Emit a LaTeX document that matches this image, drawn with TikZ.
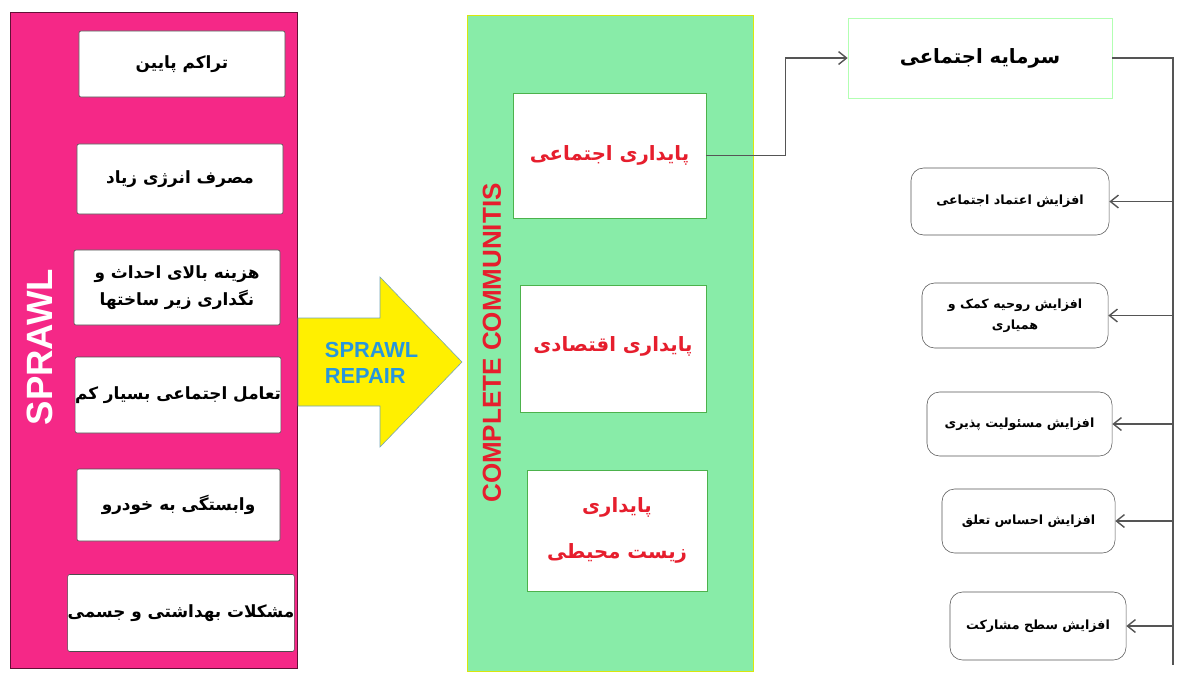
\documentclass[tikz,border=0pt]{standalone}
\usepackage{fontspec}
\setmainfont{Liberation Sans}
\newfontfamily\farsi[Script=Arabic]{DejaVu Sans}
\TeXXeTstate=1
\usetikzlibrary{arrows.meta}

\definecolor{sprawlpink}{RGB}{245,40,135}
\definecolor{ccgreen}{RGB}{136,236,168}
\definecolor{repairyellow}{RGB}{255,240,0}
\definecolor{repairblue}{RGB}{40,150,220}
\definecolor{susred}{RGB}{230,30,45}
\definecolor{linegray}{RGB}{85,85,85}

\newcommand{\fa}[1]{\beginR#1\endR}

\tikzset{
  probbox/.style={draw=black!70, fill=white, rounded corners=1.5pt, inner sep=0pt, align=center,
    font=\farsi\bfseries\fontsize{12}{19}\selectfont},
  susbox/.style={draw=green!40!gray, fill=white, inner sep=0pt, align=center, text=susred,
    font=\farsi\bfseries\fontsize{14}{33}\selectfont},
  gainbox/.style={draw=linegray, rounded corners=9pt, inner sep=0pt, align=center,
    font=\farsi\bfseries\fontsize{9}{15}\selectfont},
  link/.style={draw=linegray, line width=1pt},
  arr/.style={link, -{Straight Barb[length=2mm,width=3.2mm]}},
}

\begin{document}
\begin{tikzpicture}[x=.025cm, y=-.025cm]
\useasboundingbox (0,0) rectangle (1177,673);
% sprawl side
\draw [draw=black!60!sprawlpink, fill=sprawlpink] (10,12) rectangle (297,668);
\node [rotate=90, text=white, font=\bfseries\fontsize{26}{28}\selectfont] (sprawl) at (40,347) {SPRAWL};
\node [probbox, minimum width=5.15cm, minimum height=1.65cm] (p1) at (182,64) {\fa{تراکم پایین}};
\node [probbox, minimum width=5.15cm, minimum height=1.75cm] (p2) at (180,179) {\fa{مصرف انرژی زیاد}};
\node [probbox, minimum width=5.15cm, minimum height=1.875cm] (p3) at (177,287.5) {\fa{هزینه بالای احداث و}\\\fa{نگداری زیر ساختها}};
\node [probbox, minimum width=5.05cm, minimum height=1.9cm] (p4) at (178,395) {\fa{تعامل اجتماعی بسیار کم}};
\node [probbox, minimum width=5.075cm, minimum height=1.8cm] (p5) at (178.5,505) {\fa{وابستگی به خودرو}};
\node [probbox, minimum width=5.35cm, minimum height=1.925cm] (p6) at (181,613) {\fa{مشکلات بهداشتی و جسمی}};
% repair arrow
\draw [draw=cyan!40!gray, fill=repairyellow] (298,318) -- (380,318) -- (380,277) -- (462,362) -- (380,447) -- (380,406) -- (298,406) -- cycle;
\node [anchor=west, align=left, text=repairblue, font=\bfseries\fontsize{15.5}{19}\selectfont] (repair) at (320,363) {SPRAWL\\REPAIR};
% complete communities
\draw [draw=yellow!85!green, fill=ccgreen] (467,15) rectangle (753,671);
\node [rotate=90, text=susred, font=\bfseries\fontsize{18.5}{20}\selectfont] (cc) at (492,343) {COMPLETE COMMUNITIS};
\node [susbox, minimum width=4.825cm, minimum height=3.125cm] (s1) at (609.5,155.5) {\raisebox{4pt}{\fa{پایداری اجتماعی}}};
\node [susbox, minimum width=4.65cm, minimum height=3.175cm] (s2) at (613,348.5) {\raisebox{6pt}{\fa{پایداری اقتصادی}}};
\node [susbox, minimum width=4.5cm, minimum height=3.025cm] (s3) at (617,530.5) {\fa{پایداری}\\\fa{زیست محیطی}};
% social capital
\node [draw=green!30!white, minimum width=6.6cm, minimum height=2cm, font=\farsi\bfseries\fontsize{14}{18}\selectfont] (capital) at (980,58) {\fa{سرمایه اجتماعی}};
\node [gainbox, minimum width=4.95cm, minimum height=1.675cm] (g1) at (1010,201.5) {\fa{افزایش اعتماد اجتماعی}};
\node [gainbox, minimum width=4.65cm, minimum height=1.625cm] (g2) at (1015,315.5) {\fa{افزایش روحیه کمک و}\\\fa{همیاری}};
\node [gainbox, minimum width=4.625cm, minimum height=1.6cm] (g3) at (1019.5,424) {\fa{افزایش مسئولیت پذیری}};
\node [gainbox, minimum width=4.325cm, minimum height=1.6cm] (g4) at (1028.5,521) {\fa{افزایش احساس تعلق}};
\node [gainbox, minimum width=4.4cm, minimum height=1.7cm] (g5) at (1038,626) {\fa{افزایش سطح مشارکت}};
\coordinate (bustop) at (1173,58);
\coordinate (busend) at (1173,665);
\draw [arr] (s1.east) -- ++(79,0) |- (capital.west);
\draw [link] (capital.east) -- (bustop) -- (busend);
\foreach \g in {g1,g2,g3,g4,g5}
  \draw [arr] (bustop |- \g.east) -- (\g.east);
\end{tikzpicture}
\end{document}
